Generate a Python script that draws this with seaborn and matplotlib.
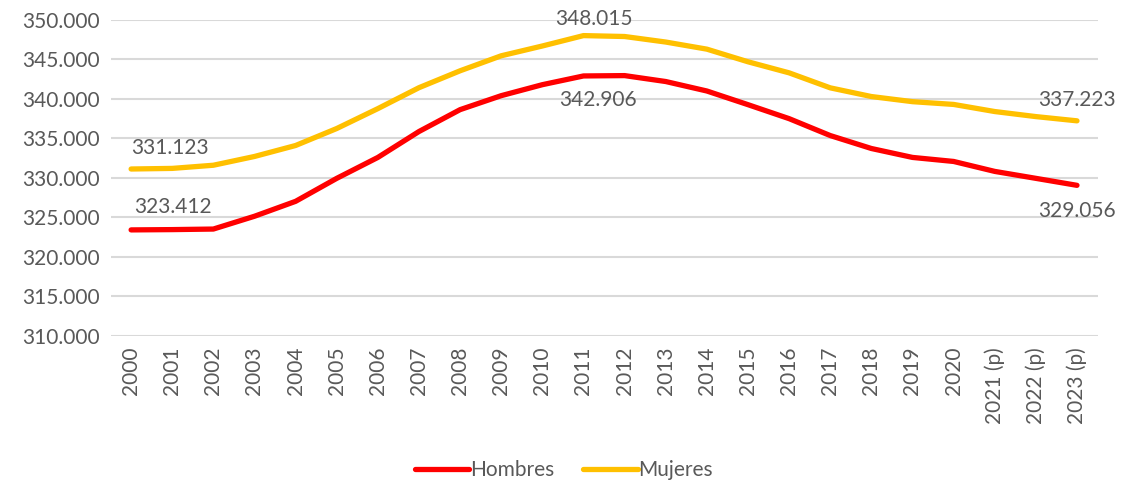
import pandas as pd
import matplotlib.pyplot as plt
import seaborn as sns

# Population by sex, 2000-2023 (p = provisional)
years = ["2000", "2001", "2002", "2003", "2004", "2005", "2006", "2007",
         "2008", "2009", "2010", "2011", "2012", "2013", "2014", "2015",
         "2016", "2017", "2018", "2019", "2020", "2021 (p)", "2022 (p)", "2023 (p)"]

hombres = [323412, 323450, 323520, 325140, 327030, 329940, 332590, 335870,
           338640, 340410, 341800, 342906, 342950, 342200, 341000, 339270,
           337500, 335360, 333720, 332590, 332080, 330820, 329940, 329056]

mujeres = [331123, 331200, 331600, 332710, 334100, 336250, 338770, 341420,
           343560, 345460, 346700, 348015, 347900, 347200, 346300, 344700,
           343300, 341400, 340300, 339650, 339300, 338400, 337760, 337223]

series_names = ["Hombres", "Mujeres"]
colors = {"Hombres": "#FF0000", "Mujeres": "#FFC000"}

# labelled points: (series, year, offset in pixels)
labels = [
    ("Mujeres", "2000", (39, 21)),
    ("Hombres", "2000", (42, 23)),
    ("Mujeres", "2011", (10, 17)),
    ("Hombres", "2011", (14, -24)),
    ("Mujeres", "2023 (p)", (0, 21)),
    ("Hombres", "2023 (p)", (0, -26)),
]

sns.set_theme(style="white")
plt.rcParams["font.family"] = ["Lato", "DejaVu Sans"]

gray = "#595959"
fs = 15


def fmt(v):
    return f"{v:,.0f}".replace(",", ".")


df = pd.DataFrame({"year": years, "Hombres": hombres, "Mujeres": mujeres})
long_df = df.melt(id_vars="year", value_vars=series_names,
                  var_name="serie", value_name="valor")

fig = plt.figure(figsize=(11.28, 4.86), dpi=100)
ax = fig.add_axes([0.098, 0.309, 0.875, 0.650])

sns.lineplot(data=long_df, x="year", y="valor", hue="serie",
             palette=colors, linewidth=3.8, ax=ax, sort=False,
             solid_capstyle="round", legend=False)

ax.set_ylim(310000, 350000)
ax.set_xlim(-0.5, len(years) - 0.5)
ax.set_yticks(range(310000, 350001, 5000))
ax.set_yticklabels([fmt(v) for v in range(310000, 350001, 5000)])
ax.set_xticks(range(len(years)))
ax.set_xticklabels(years, rotation=90)
ax.tick_params(axis="both", length=0, colors=gray, labelsize=fs)
ax.tick_params(axis="y", pad=8)
ax.tick_params(axis="x", pad=8)
ax.grid(axis="y", color="#D9D9D9", linewidth=1.5)
ax.set_axisbelow(True)
for s in ax.spines.values():
    s.set_visible(False)
ax.set_xlabel("")
ax.set_ylabel("")

values = {"Hombres": hombres, "Mujeres": mujeres}
for serie, yr, off in labels:
    i = years.index(yr)
    v = values[serie][i]
    ax.annotate(fmt(v), xy=(i, v), xytext=off, textcoords="offset pixels",
                ha="center", va="center", color=gray, fontsize=fs)

handles = [plt.Line2D([], [], color=colors[n], linewidth=3.8) for n in series_names]
fig.legend(handles, series_names, loc="center", bbox_to_anchor=(0.5, 0.033),
           ncol=2, frameon=False, fontsize=fs, labelcolor=gray,
           handlelength=2.6, handletextpad=0.05, columnspacing=1.4)

fig.savefig("out.png", dpi=100)
